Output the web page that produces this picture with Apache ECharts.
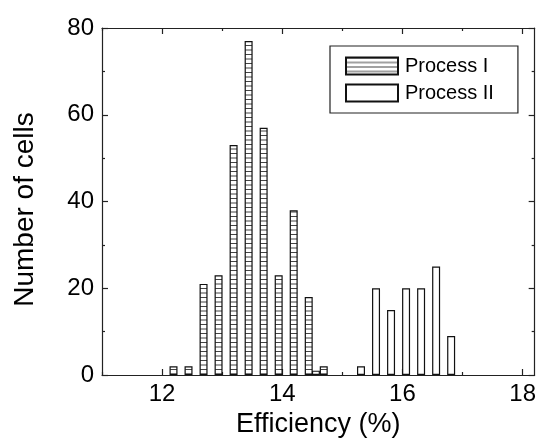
<!DOCTYPE html>
<html>
<head>
<meta charset="utf-8">
<script src="https://cdn.jsdelivr.net/npm/echarts@6/dist/echarts.min.js"></script>
<style>
  html, body { margin: 0; padding: 0; background: #fff; }
  #chart { width: 539px; height: 443px; }
</style>
</head>
<body>
<div id="chart"></div>
<script>
// efficiency bin centres and cell counts
var process1X = [12.19, 12.44, 12.69, 12.94, 13.19, 13.44, 13.69, 13.94, 14.19, 14.44, 14.69];
var process1N = [2, 2, 21, 23, 53, 77, 57, 23, 38, 18, 2];
var process2X = [14.56, 15.31, 15.56, 15.81, 16.06, 16.31, 16.56, 16.81];
var process2N = [1, 2, 20, 15, 20, 20, 25, 9];

var majorX = [12, 14, 16, 18];
var minorX = [11, 13, 15, 17];

function pairs(xs, ys) {
  var out = [];
  for (var i = 0; i < xs.length; i++) out.push([xs[i], ys[i]]);
  return out;
}

// horizontal line hatch for process I
var hatch = document.createElement('canvas');
hatch.width = 4;
hatch.height = 9;
var ctx = hatch.getContext('2d');
ctx.fillStyle = '#fff';
ctx.fillRect(0, 0, 4, 9);
ctx.fillStyle = '#444';
ctx.fillRect(0, 0, 4, 1);
ctx.fillRect(0, 4.5, 4, 1);

var font = 'Liberation Sans, Arial, sans-serif';

function xAxis(pos, ticks, len, showLine, label) {
  return {
    type: 'value', position: pos, min: 11, max: 18.2, interval: 1,
    axisLine: { show: showLine, onZero: false, lineStyle: { color: '#222', width: 1.2 } },
    axisTick: { show: true, inside: true, length: len, customValues: ticks, lineStyle: { color: '#222', width: 1.2 } },
    axisLabel: label ? { show: true, customValues: ticks, fontSize: 24, color: '#000', fontFamily: font, margin: 7 } : { show: false },
    splitLine: { show: false }
  };
}

function yAxis(pos, label) {
  return {
    type: 'value', position: pos, min: 0, max: 80, interval: 20,
    axisLine: { show: true, lineStyle: { color: '#222', width: 1.2 } },
    axisTick: { show: true, inside: true, length: 6, lineStyle: { color: '#222', width: 1.2 } },
    minorTick: { show: true, splitNumber: 2, length: 3, lineStyle: { color: '#222', width: 1.2 } },
    axisLabel: label ? { show: true, fontSize: 24, color: '#000', fontFamily: font, margin: 8 } : { show: false },
    splitLine: { show: false }
  };
}

var chart = echarts.init(document.getElementById('chart'));

var xs = [
  xAxis('bottom', majorX, 6, true, true),
  xAxis('bottom', minorX, 3, false, false),
  xAxis('top', majorX, 6, true, false),
  xAxis('top', minorX, 3, false, false)
];
xs[0].name = 'Efficiency (%)';
xs[0].nameLocation = 'middle';
xs[0].nameGap = 36;
xs[0].nameTextStyle = { fontSize: 27, color: '#000', fontFamily: font };

var ys = [yAxis('left', true), yAxis('right', false)];
ys[0].name = 'Number of cells';
ys[0].nameLocation = 'middle';
ys[0].nameGap = 63;
ys[0].nameTextStyle = { fontSize: 28, color: '#000', fontFamily: font, padding: [0, 16, 0, 0] };

chart.setOption({
  animation: false,
  backgroundColor: '#fff',
  grid: { left: 102, top: 28, right: 2, bottom: 63, containLabel: false },
  legend: {
    orient: 'vertical',
    left: 330, top: 46,
    padding: [10, 24, 10, 15],
    itemGap: 7,
    itemWidth: 52, itemHeight: 17,
    borderColor: '#222', borderWidth: 1.2,
    icon: 'rect',
    textStyle: { fontSize: 20, color: '#000', fontFamily: font, padding: [0, 0, 0, 2] },
    data: ['Process I', 'Process II']
  },
  xAxis: xs,
  yAxis: ys,
  series: [
    {
      name: 'Process I', type: 'bar', barWidth: 8, barGap: '-100%',
      itemStyle: { color: { image: hatch, repeat: 'repeat' }, borderColor: '#111', borderWidth: 1.2 },
      data: pairs(process1X, process1N)
    },
    {
      name: 'Process II', type: 'bar', barWidth: 8, barGap: '-100%',
      itemStyle: { color: '#fff', borderColor: '#111', borderWidth: 1.2 },
      data: pairs(process2X, process2N)
    }
  ]
});
</script>
</body>
</html>
